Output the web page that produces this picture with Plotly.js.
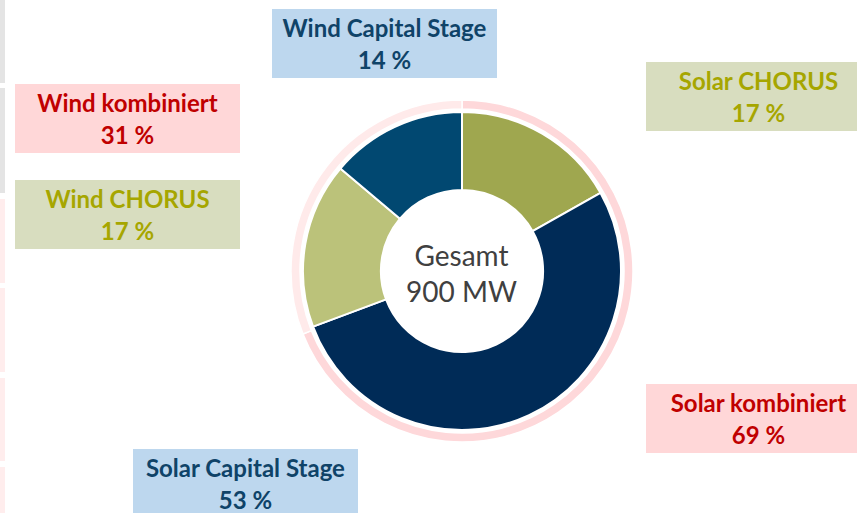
<!DOCTYPE html>
<html>
<head>
<meta charset="utf-8">
<script src="https://cdn.plot.ly/plotly-3.0.1.min.js"></script>
<style>
  html, body { margin: 0; padding: 0; background: #fff; }
  #chart { width: 857px; height: 513px; }
</style>
</head>
<body>
<div id="chart"></div>
<script>
// inner ring: individual projects (share of 900 MW)
const projekte = ["Solar CHORUS", "Solar Capital Stage", "Wind CHORUS", "Wind Capital Stage"];
const anteile = [17, 53, 17, 14];
const farbenInnen = ["#9fa74f", "#002b57", "#bbc27a", "#014871"];

// outer ring: combined per technology
const gruppen = ["Solar kombiniert", "Wind kombiniert"];
const gruppenAnteile = [69, 31];
const farbenAussen = ["#fed8da", "#ffeaea"];

const gesamtText = "Gesamt<br>900 MW";

const W = 857, H = 513;
const cx = 462, cy = 271;

function dom(r) {
    return {
        x: [(cx - r) / W, (cx + r) / W],
        y: [1 - (cy + r) / H, 1 - (cy - r) / H]
    };
}

const data = [
    {
        type: 'pie',
        labels: gruppen,
        values: gruppenAnteile,
        domain: dom(171),
        hole: 162 / 171,
        sort: false,
        direction: 'clockwise',
        rotation: 0,
        textinfo: 'none',
        hoverinfo: 'label+percent',
        marker: {colors: farbenAussen, line: {color: '#ffffff', width: 1.5}},
        showlegend: false
    },
    {
        type: 'pie',
        labels: projekte,
        values: anteile,
        domain: dom(159),
        hole: 0.51,
        sort: false,
        direction: 'clockwise',
        rotation: 0,
        textinfo: 'none',
        hoverinfo: 'label+percent',
        marker: {colors: farbenInnen, line: {color: '#ffffff', width: 2}},
        showlegend: false
    }
];

// label boxes
function box(text, x, y, bg, col) {
    return {
        text: text,
        xref: 'paper', yref: 'paper',
        x: x / W, y: 1 - y / H,
        xanchor: 'left', yanchor: 'top',
        width: 225, height: 69,
        align: 'center', valign: 'middle',
        bgcolor: bg, borderpad: 0, borderwidth: 0,
        showarrow: false,
        font: {family: 'Lato, sans-serif', size: 24, color: col, weight: 'bold'}
    };
}

const blau = "#bdd7ee", blauText = "#0f4368";
const oliv = "#d8ddbf", olivText = "#a6a600";
const rosa = "#ffd7d8", rosaText = "#c00000";

const annotations = [
    box("<b>" + projekte[3] + "</b><br><b>" + anteile[3] + " %</b>", 272, 9, blau, blauText),
    box("<b>" + projekte[0] + "</b><br><b>" + anteile[0] + " %</b>", 646, 62, oliv, olivText),
    box("<b>" + gruppen[1] + "</b><br><b>" + gruppenAnteile[1] + " %</b>", 15, 84, rosa, rosaText),
    box("<b>" + projekte[2] + "</b><br><b>" + anteile[2] + " %</b>", 15, 180, oliv, olivText),
    box("<b>" + gruppen[0] + "</b><br><b>" + gruppenAnteile[0] + " %</b>", 646, 384, rosa, rosaText),
    box("<b>" + projekte[1] + "</b><br><b>" + anteile[1] + " %</b>", 133, 449, blau, blauText),
    {
        text: gesamtText,
        xref: 'paper', yref: 'paper',
        x: cx / W, y: 1 - (cy + 2) / H,
        xanchor: 'center', yanchor: 'middle',
        showarrow: false,
        font: {family: 'Lato, sans-serif', size: 28, color: '#404040'}
    }
];

// faint strips at the left edge
const streifen = [[0, 83, '#e4e4e4'], [88, 193, '#e4e4e4'], [199, 283, '#ffeded'],
                  [288, 372, '#ffeded'], [378, 461, '#ffeded'], [467, 513, '#ffeded']];
const shapes = streifen.map(s => ({
    type: 'rect', xref: 'paper', yref: 'paper',
    x0: 0, x1: 5 / W, y0: 1 - s[1] / H, y1: 1 - s[0] / H,
    fillcolor: s[2], line: {width: 0}, layer: 'below'
}));

const layout = {
    width: W, height: H,
    margin: {l: 0, r: 0, t: 0, b: 0},
    paper_bgcolor: '#ffffff',
    plot_bgcolor: '#ffffff',
    showlegend: false,
    annotations: annotations,
    shapes: shapes
};

Plotly.newPlot("chart", data, layout, {displayModeBar: false, staticPlot: true});
</script>
</body>
</html>
